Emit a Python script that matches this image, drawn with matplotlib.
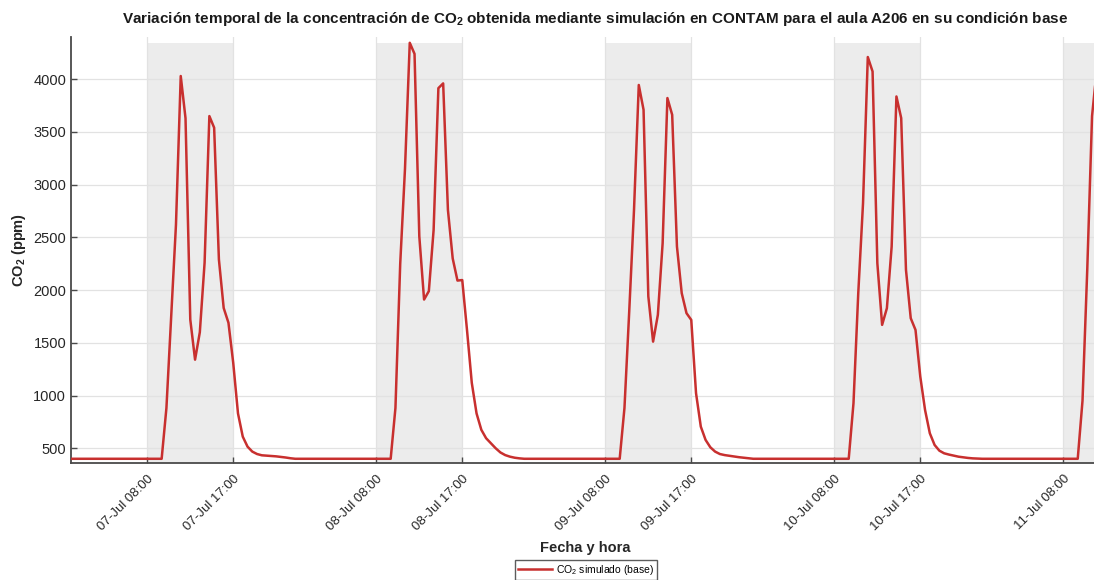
import numpy as np
import pandas as pd
import matplotlib
matplotlib.use("Agg")
import matplotlib.pyplot as plt
import matplotlib.dates as mdates

plt.rcParams['font.family'] = ['Liberation Sans', 'DejaVu Sans']
plt.rcParams['mathtext.default'] = 'regular'

# CO2 (ppm) cada 30 min, de 09:30 a 23:00 de cada dia (fuera de ese tramo: nivel base)
base_ppm = 400
dia_07 = [400, 882, 1760, 2620, 4030, 3630, 1720, 1340, 1600, 2260, 3650, 3540, 2290, 1830,
          1690, 1310, 830, 610, 515, 468, 445, 433, 430, 428, 423, 418, 412, 405]
dia_08 = [400, 882, 2250, 3150, 4345, 4240, 2510, 1910, 1990, 2570, 3915, 3960, 2760, 2300,
          2090, 2095, 1620, 1120, 830, 675, 595, 547, 500, 460, 435, 420, 410, 404]
dia_09 = [400, 882, 1800, 2760, 3945, 3710, 1940, 1511, 1765, 2445, 3821, 3662, 2413, 1971,
          1781, 1717, 1022, 705, 579, 509, 468, 445, 435, 428, 420, 415, 410, 405]
dia_10 = [400, 927, 1970, 2824, 4210, 4073, 2255, 1670, 1828, 2413, 3836, 3631, 2192, 1733,
          1622, 1179, 863, 642, 531, 477, 452, 440, 430, 420, 414, 408, 404, 402]
dia_11 = [400, 950, 2200, 3650, 4100]
dias = ['2023-07-07', '2023-07-08', '2023-07-09', '2023-07-10', '2023-07-11']
perfiles = [dia_07, dia_08, dia_09, dia_10, dia_11]

tiempo = pd.date_range('2023-07-07 00:00', '2023-07-11 11:30', freq='30min')
co2 = pd.Series(float(base_ppm), index=tiempo)
for d, vals in zip(dias, perfiles):
    idx = pd.date_range(pd.Timestamp(d + ' 09:30'), periods=len(vals), freq='30min')
    co2[idx] = vals

fig = plt.figure(figsize=(10.94, 5.8), dpi=100)
ax = fig.add_axes([71/1094, 1 - 463/580, (1100 - 71)/1094, (463 - 37)/580])

ylo, yhi = 360, 4400
top_frac = (co2.max() - ylo) / (yhi - ylo)
for d in dias:
    ax.axvspan(pd.Timestamp(d + ' 08:00'), pd.Timestamp(d + ' 17:00'), ymin=0, ymax=top_frac,
               color='#ececec', lw=0, zorder=0.1)

ax.plot(co2.index, co2.values, color='#c8302f', lw=1.8, label='CO$_2$ simulado (base)', zorder=3)

ax.set_xlim(pd.Timestamp('2023-07-07 00:00'), pd.Timestamp('2023-07-11 11:50'))
ax.set_ylim(ylo, yhi)
ax.set_yticks(np.arange(500, 4001, 500))
xt = [pd.Timestamp(d + ' ' + h) for d in dias for h in ['08:00', '17:00']][:-1]
ax.set_xticks(xt)
ax.xaxis.set_major_formatter(mdates.DateFormatter('%d-%b %H:%M'))
plt.setp(ax.get_xticklabels(), rotation=45, ha='right', va='top', rotation_mode='anchor')

ax.set_axisbelow(True)
ax.grid(True, color='#e2e2e2', lw=0.9)
for s in ['top', 'right']:
    ax.spines[s].set_visible(False)
for s in ['left', 'bottom']:
    ax.spines[s].set_color('#4a4a4a')
    ax.spines[s].set_linewidth(1.3)
ax.tick_params(direction='in', length=4, width=1, color='#4a4a4a', labelsize=10.5,
               labelcolor='#262626')
ax.tick_params(axis='x', labelsize=9.5, pad=7)

ax.set_ylabel('CO$_2$ (ppm)', fontweight='bold', fontsize=10.5, color='#262626')
ax.yaxis.set_label_coords(-0.042, 0.5)
ax.set_xlabel('Fecha y hora', fontweight='bold', fontsize=10.5, color='#262626')
ax.xaxis.set_label_coords(0.5, -0.183)

fig.text(595/1094, 1 - 19/580,
         'Variación temporal de la concentración de CO$_2$ obtenida mediante simulación '
         'en CONTAM para el aula A206 en su condición base',
         ha='center', va='center', fontsize=11, fontweight='bold', color='#1a1a1a')

leg = fig.legend(loc='center', bbox_to_anchor=(586/1094, 1 - 570/580), fontsize=7.5,
                 frameon=True, fancybox=False, handlelength=3.2, borderpad=0.3,
                 handletextpad=0.4)
leg.get_frame().set_edgecolor('#333333')
leg.get_frame().set_linewidth(1.0)

fig.savefig('out.png', dpi=100)
